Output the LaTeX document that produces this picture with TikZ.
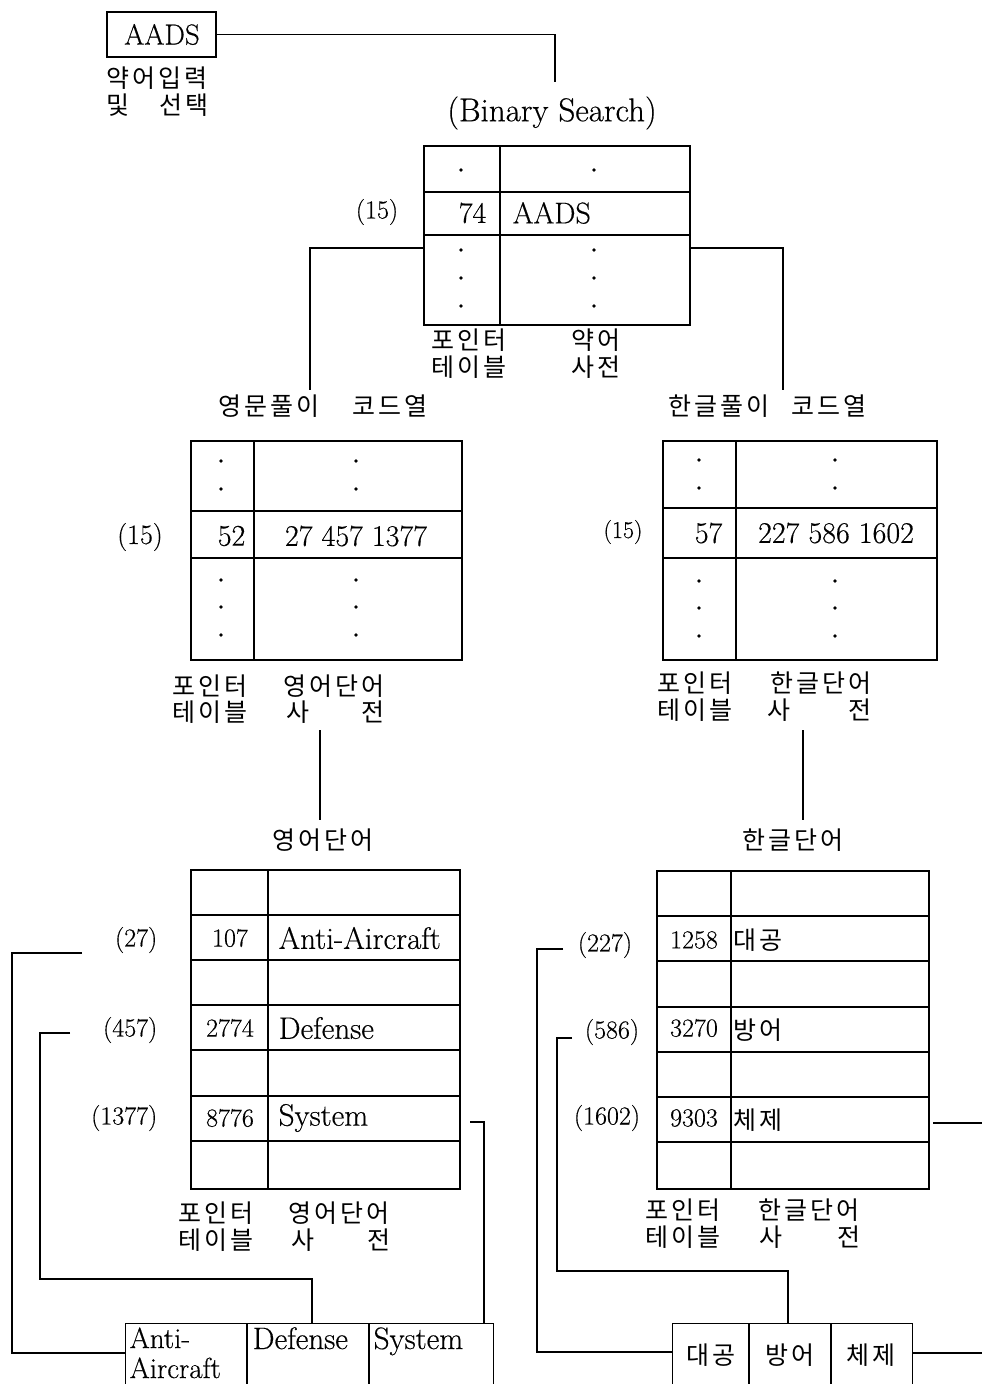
\documentclass[tikz,border=0pt]{standalone}
\usepackage{fontspec}
\newfontfamily\kr{Noto Sans CJK KR}
\newfontfamily\latf{Latin Modern Roman}[FakeBold=0.4]
\newlength\kgap
\setlength\kgap{3pt}
\makeatletter
\newcommand\kspc[1]{\@tfor\kch:=#1\do{\kch\hspace{\kgap}}\unskip}
\makeatother
\begin{document}
\begin{tikzpicture}[x=1pt,y=-1pt,line width=1.4pt,
  lat/.style={font=\latf\fontsize{30}{32}\selectfont,inner sep=0pt},
  latw/.style={font=\latf\fontsize{31}{33}\selectfont,inner sep=0pt},
  num/.style={font=\latf\fontsize{26}{28}\selectfont,inner sep=0pt},
  kr/.style={font=\kr\fontsize{25}{27}\selectfont,inner sep=0pt},
  krw/.style={font=\kr\fontsize{25}{27}\selectfont,inner sep=0pt},
  tbl/.style={draw,inner sep=0pt,minimum width=#1},
  wire/.style={line width=1.4pt}]
\useasboundingbox (0,0) rectangle (982,1384);
\clip (0,0) rectangle (982,1384);

% ---------- top: AADS input ----------
\node[draw,inner sep=0pt,minimum width=109pt,minimum height=45pt] (A) at (161.5,34.5) {};
\node[lat,font=\latf\fontsize{29}{30}\selectfont] (Atxt) at (162,34.5) {AADS};
\node[kr,anchor=west] (Alab1) at (106,78) {\kspc{약어입력}};
\node[kr,anchor=west] (Alab2) at (106,105) {\kspc{및}\hspace{30pt}\kspc{선택}};
\coordinate (bsTop) at (555,82);
\draw[wire] (A.east) -| (bsTop);
\node[lat,font=\latf\fontsize{33}{35}\selectfont] (bs) at (552,113) {(Binary Search)};

% ---------- table 1: abbreviation dictionary ----------
\node[tbl=266pt,minimum height=179pt] (T1) at (557,235.5) {};
\draw (500,146)--(500,325) (424,192)--(690,192) (424,235)--(690,235);
\foreach \y in {170,250,278,306}{\fill (461,\y) circle (1.8pt); \fill (594,\y) circle (1.8pt);}
\node[lat,anchor=east] (n74) at (487,213) {74};
\node[lat,anchor=west] (aads) at (512,213) {AADS};
\node[lat,font=\latf\fontsize{26}{28}\selectfont] (i15a) at (377,212) {(15)};
\node[kr] (l1a) at (469,340) {\kspc{포인터}};
\node[kr] (l1b) at (469,367) {\kspc{테이블}};
\node[kr] (l1c) at (596,340) {\kspc{약어}};
\node[kr] (l1d) at (596,367) {\kspc{사전}};
\coordinate (c1L) at (424,248);
\coordinate (c1R) at (690,248);
\coordinate (e1L) at (310,390);
\coordinate (e1R) at (783,390);
\draw[wire] (c1L) -| (e1L);
\draw[wire] (c1R) -| (e1R);

% ---------- table 2: English code ----------
\node[kr,anchor=west] (h2) at (218,406) {\kspc{영문풀이}\hspace{33pt}\kspc{코드열}};
\node[tbl=271pt,minimum height=219pt] (T2) at (326.5,550.5) {};
\draw (254,441)--(254,660) (191,511)--(462,511) (191,558)--(462,558);
\foreach \y in {461,489,580,607,635}{\fill (221,\y) circle (1.8pt); \fill (356,\y) circle (1.8pt);}
\node[lat,anchor=east] (n52) at (246,536) {52};
\node[lat] (codesE) at (356,536) {27 457 1377};
\node[lat,font=\latf\fontsize{28}{30}\selectfont] (i15b) at (140,537) {(15)};
\node[kr] (l2a) at (210,686) {\kspc{포인터}};
\node[kr] (l2b) at (210,712) {\kspc{테이블}};
\node[kr] (l2c) at (334,686) {\kspc{영어단어}};
\node[kr] (l2d) at (298,712) {사};
\node[kr] (l2e) at (373,712) {전};
\coordinate (v2a) at (320,730);
\coordinate (v2b) at (320,820);
\draw[wire] (v2a) -- (v2b);

% ---------- table 3: Korean code ----------
\node[kr,anchor=west] (h3) at (668,406) {\kspc{한글풀이}\hspace{22pt}\kspc{코드열}};
\node[tbl=274pt,minimum height=219pt] (T3) at (800,550.5) {};
\draw (736,441)--(736,660) (663,508)--(937,508) (663,558)--(937,558);
\foreach \y in {460,488,581,608,636}{\fill (699,\y) circle (1.8pt); \fill (835,\y) circle (1.8pt);}
\node[lat,anchor=east] (n57) at (723,533) {57};
\node[lat] (codesK) at (836,533) {227 586 1602};
\node[lat,font=\latf\fontsize{24}{26}\selectfont] (i15c) at (623,532) {(15)};
\node[kr] (l3a) at (695,683) {\kspc{포인터}};
\node[kr] (l3b) at (695,710) {\kspc{테이블}};
\node[kr] (l3c) at (821,683) {\kspc{한글단어}};
\node[kr] (l3d) at (779,710) {사};
\node[kr] (l3e) at (860,710) {전};
\coordinate (v3a) at (803,730);
\coordinate (v3b) at (803,820);
\draw[wire] (v3a) -- (v3b);

% ---------- table 4: English words ----------
\node[kr] (h4) at (323,840) {\kspc{영어단어}};
\node[tbl=269pt,minimum height=319pt] (T4) at (325.5,1029.5) {};
\draw (268,870)--(268,1189);
\foreach \y in {915,960,1005,1050,1096,1141}{\draw (191,\y)--(460,\y);}
\node[num] (n107) at (230,938) {107};
\node[latw,anchor=west] (wAA) at (278,938) {Anti-Aircraft};
\node[num] (n2774) at (230,1028) {2774};
\node[latw,anchor=west] (wDef) at (278,1028) {Defense};
\node[num] (n8776) at (230,1118) {8776};
\node[latw,anchor=west] (wSys) at (278,1118) {System};
\node[num,anchor=east] (i27) at (158,940) {(27)};
\node[num,anchor=east] (i457) at (158,1030) {(457)};
\node[num,anchor=east] (i1377) at (158,1118) {(1377)};
\node[kr] (l4a) at (216,1213) {\kspc{포인터}};
\node[kr] (l4b) at (216,1240) {\kspc{테이블}};
\node[kr] (l4c) at (339,1213) {\kspc{영어단어}};
\node[kr] (l4d) at (303,1240) {사};
\node[kr] (l4e) at (379,1240) {전};

% ---------- box 1: English result ----------
\node[draw,inner sep=0pt,minimum width=368pt,minimum height=100pt,anchor=north west] (B1) at (125,1323) {};
\draw (247,1323)--(247,1420) (369,1323)--(369,1420);
\node[latw,font=\latf\fontsize{29}{31}\selectfont,anchor=base west] (bAA1) at (129,1348) {Anti-};
\node[latw,font=\latf\fontsize{29}{31}\selectfont,anchor=base west] (bAA2) at (129,1378) {Aircraft};
\node[latw,anchor=base west] (bDef) at (252,1349) {Defense};
\node[latw,anchor=base west] (bSys) at (373,1349) {System};

\coordinate (w27) at (82,953);
\coordinate (w457) at (70,1033);
\coordinate (w1377) at (470,1122);
\draw[wire] (w27) -- (12,953) |- (B1.west |- 0,1353);
\draw[wire] (w457) -- (40,1033) |- (312,1279) -- (312,1323);
\draw[wire] (w1377) -| (484,1323);

% ---------- table 5: Korean words ----------
\node[kr] (h5) at (793,840) {\kspc{한글단어}};
\node[tbl=272pt,minimum height=318pt] (T5) at (793,1030) {};
\draw (731,871)--(731,1189);
\foreach \y in {916,961,1007,1052,1097,1142}{\draw (657,\y)--(929,\y);}
\node[num] (n1258) at (694,940) {1258};
\node[krw,anchor=west] (wDG) at (733,940) {\kspc{대공}};
\node[num] (n3270) at (694,1028) {3270};
\node[krw,anchor=west] (wBE) at (733,1030) {\kspc{방어}};
\node[num] (n9303) at (694,1118) {9303};
\node[krw,anchor=west] (wCJ) at (733,1120) {\kspc{체제}};
\node[num] (i227) at (605,945) {(227)};
\node[num] (i586) at (612,1032) {(586)};
\node[num] (i1602) at (607,1118) {(1602)};
\node[kr] (l5a) at (683,1210) {\kspc{포인터}};
\node[kr] (l5b) at (683,1237) {\kspc{테이블}};
\node[kr] (l5c) at (809,1210) {\kspc{한글단어}};
\node[kr] (l5d) at (771,1237) {사};
\node[kr] (l5e) at (849,1237) {전};

% ---------- box 2: Korean result ----------
\node[draw,inner sep=0pt,minimum width=240pt,minimum height=100pt,anchor=north west] (B2) at (672,1323) {};
\draw (749,1323)--(749,1420) (831,1323)--(831,1420);
\node[kr] (bDG) at (711,1355) {\kspc{대공}};
\node[kr] (bBE) at (790,1355) {\kspc{방어}};
\node[kr] (bCJ) at (871,1355) {\kspc{체제}};

\coordinate (w227) at (563,949);
\coordinate (w586) at (572,1038);
\coordinate (w1602) at (933,1123);
\coordinate (x1602) at (990,1123);
\coordinate (xB2) at (990,1353);
\draw[wire] (w227) -- (537,949) |- (B2.west |- 0,1352);
\draw[wire] (w586) -- (557,1038) |- (788,1271) -- (788,1323);
\draw[wire] (w1602) -- (x1602);
\draw[wire] (B2.east |- 0,1353) -- (xB2);
\end{tikzpicture}
\end{document}
